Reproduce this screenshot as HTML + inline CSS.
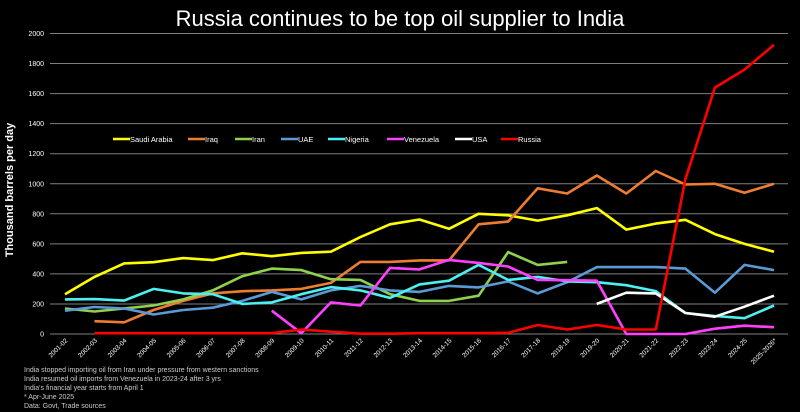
<!DOCTYPE html>
<html><head><meta charset="utf-8"><style>
html,body{margin:0;padding:0;background:#000;width:800px;height:412px;overflow:hidden}
svg{display:block;font-family:"Liberation Sans",sans-serif}
</style></head><body>
<svg id="chart" width="800" height="412">
<text x="400" y="26" text-anchor="middle" fill="#fff" font-size="22">Russia continues to be top oil supplier to India</text>
<text transform="translate(13,190) rotate(-90)" text-anchor="middle" fill="#fff" font-size="11" font-weight="bold">Thousand barrels per day</text>
<g id="grid"></g><g id="xlabels"></g><g id="series"></g><g id="legend"></g>
<g fill="#ccc" font-size="7">
<text x="24" y="372">India stopped importing oil from Iran under pressure from western sanctions</text>
<text x="24" y="381">India resumed oil imports from Venezuela in 2023-24 after 3 yrs</text>
<text x="24" y="390">India's financial year starts from April 1</text>
<text x="24" y="399">* Apr-June 2025</text>
<text x="24" y="408">Data: Govt, Trade sources</text>
</g>
</svg>
<script>
const categories=["2001-02","2002-03","2003-04","2004-05","2005-06","2006-07","2007-08","2008-09","2009-10","2010-11","2011-12","2012-13","2013-14","2014-15","2015-16","2016-17","2017-18","2018-19","2019-20","2020-21","2021-22","2022-23","2023-24","2024-25","2025-2026*"];
const yTicks=[0,200,400,600,800,1000,1200,1400,1600,1800,2000];
const seriesNames=["Saudi Arabia","Iraq","Iran","UAE","Nigeria","Venezuela","USA","Russia"];
const seriesColors=["#ffff00","#ed7d31","#8fd14f","#5b9bd5","#4df0f0","#ff40ff","#ffffff","#ff0000"];
const saudi=[265,380,470,478,505,492,537,518,540,548,645,730,762,700,800,790,755,790,838,695,735,760,665,600,548];
const iraq=[null,85,78,160,220,270,285,290,300,340,480,480,490,490,730,748,970,935,1055,935,1085,995,1000,940,1000];
const iran=[170,150,170,190,230,290,385,435,425,365,360,265,220,220,255,545,460,480,null,null,null,null,null,null,null];
const uae=[155,180,170,130,160,175,220,280,230,290,320,290,280,320,310,350,270,345,445,445,445,435,275,460,425];
const nigeria=[230,232,222,300,270,265,200,210,265,312,290,240,330,355,460,360,380,350,345,325,285,140,120,105,190];
const venezuela=[null,null,null,null,null,null,null,155,5,210,190,440,430,493,473,449,360,358,355,0,0,0,35,55,45];
const usa=[null,null,null,null,null,null,null,null,null,null,null,null,null,null,null,null,null,null,200,275,270,140,115,182,255];
const russia=[null,5,5,5,5,5,5,5,30,15,2,2,5,5,5,8,60,30,60,30,30,1030,1640,1760,1925];
const allSeries=[saudi,iraq,iran,uae,nigeria,venezuela,usa,russia];

const NS="http://www.w3.org/2000/svg";
const x0=65,x1=774,yBase=334,yTopVal=2000,yTop=33.5;
const xScale=i=>x0+i*(x1-x0)/(categories.length-1);
const yScale=v=>yBase-(v/yTopVal)*(yBase-yTop);
function mk(tag,attrs,parent){const e=document.createElementNS(NS,tag);for(const k in attrs)e.setAttribute(k,attrs[k]);parent.appendChild(e);return e;}

const grid=document.getElementById('grid');
yTicks.forEach(v=>{
  const l=mk('line',{x1:50,x2:788,y1:yScale(v),y2:yScale(v),stroke:'#7f7f7f','stroke-width':1},grid);
  
  
  const t=mk('text',{x:44,y:yScale(v)+2.5,'text-anchor':'end',fill:'#fff','font-size':7},grid);
  t.textContent=v;
  
  
});
const xl=document.getElementById('xlabels');
categories.forEach((c,i)=>{
  const t=mk('text',{transform:`translate(${xScale(i)+3},${yBase+7}) rotate(-45)`,'text-anchor':'end',fill:'#fff','font-size':6.5},xl);
  t.textContent=c;
  
  
});
const sg=document.getElementById('series');
allSeries.forEach((s,k)=>{
  let d='',pen=false;
  s.forEach((v,i)=>{if(v===null){pen=false;return;}d+=(pen?'L':'M')+xScale(i).toFixed(1)+','+yScale(v).toFixed(1);pen=true;});
  const p=mk('path',{d:d,fill:'none',stroke:seriesColors[k],'stroke-width':2.6,'stroke-linejoin':'round'},sg);
  
  
});
const lg=document.getElementById('legend');
const legX=[113,188,235,281,328,387,455,501];
seriesNames.forEach((n,k)=>{
  const g=mk('g',{},lg);
  
  
  mk('line',{x1:legX[k],x2:legX[k]+17,y1:139,y2:139,stroke:seriesColors[k],'stroke-width':2.6},g);
  const t=mk('text',{x:legX[k]+17,y:142,fill:'#fff','font-size':7.5},g);
  t.textContent=n;
});
</script>
</body></html>
